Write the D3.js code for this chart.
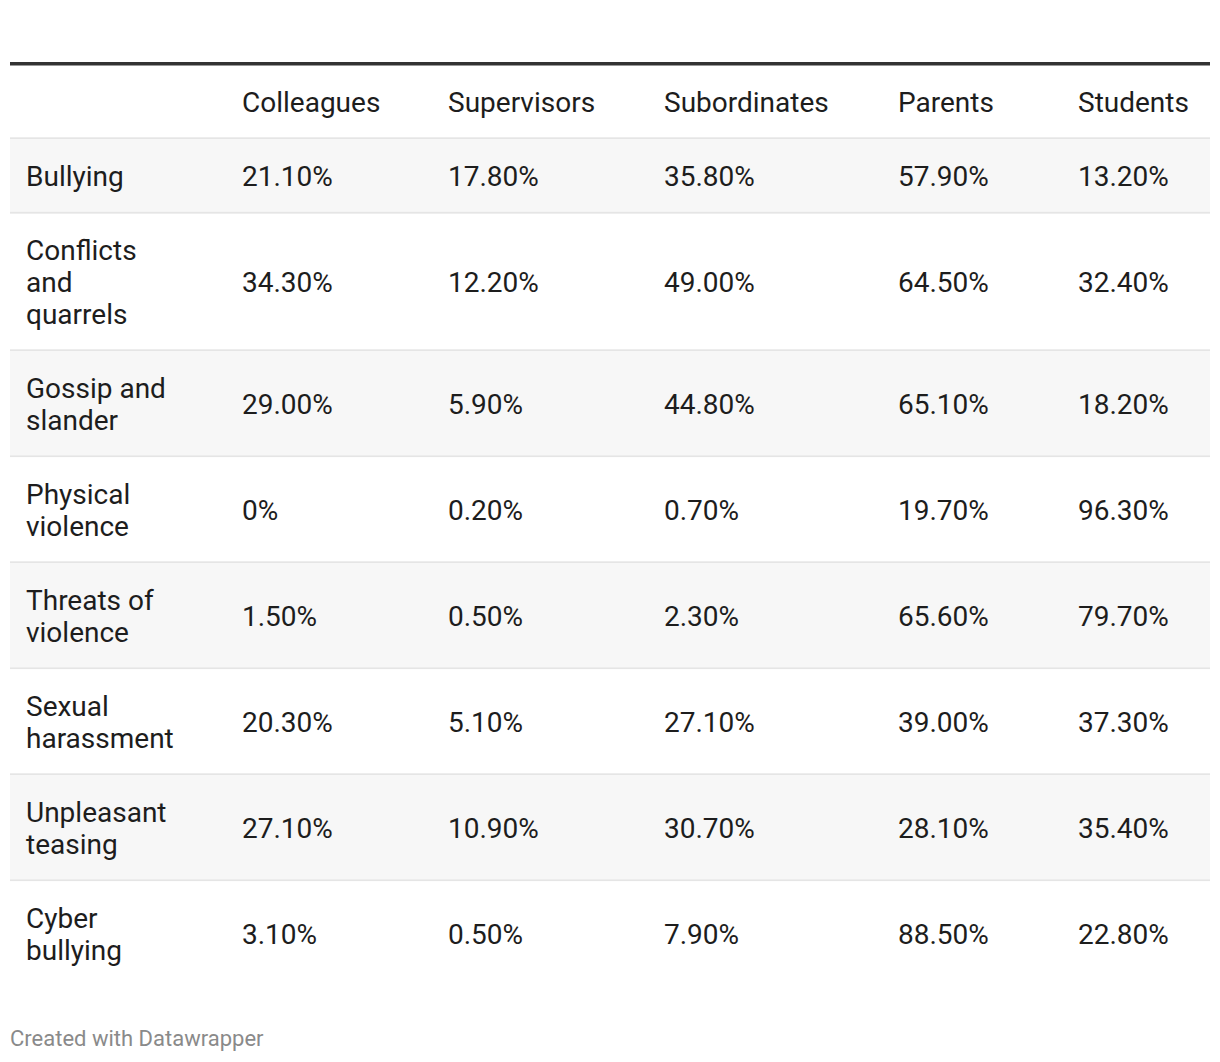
<!DOCTYPE html>
<html>
<head>
<meta charset="utf-8">
<script src="https://cdn.jsdelivr.net/npm/d3@7"></script>
<style>
  html, body { margin: 0; padding: 0; background: #fff; }
  svg { display: block; font-family: Roboto, "Noto Sans", sans-serif; }
</style>
</head>
<body>
<svg id="chart" width="1220" height="1062"></svg>
<script>
const columns = ["Colleagues", "Supervisors", "Subordinates", "Parents", "Students"];
const categories = ["Bullying", "Conflicts and quarrels", "Gossip and slander", "Physical violence",
  "Threats of violence", "Sexual harassment", "Unpleasant teasing", "Cyber bullying"];
const colleagues   = ["21.10%", "34.30%", "29.00%", "0%",    "1.50%", "20.30%", "27.10%", "3.10%"];
const supervisors  = ["17.80%", "12.20%", "5.90%",  "0.20%", "0.50%", "5.10%",  "10.90%", "0.50%"];
const subordinates = ["35.80%", "49.00%", "44.80%", "0.70%", "2.30%", "27.10%", "30.70%", "7.90%"];
const parents      = ["57.90%", "64.50%", "65.10%", "19.70%","65.60%","39.00%", "28.10%", "88.50%"];
const students     = ["13.20%", "32.40%", "18.20%", "96.30%","79.70%","37.30%", "35.40%", "22.80%"];
const footer = "Created with Datawrapper";

const series = [colleagues, supervisors, subordinates, parents, students];

const svg = d3.select("#chart");
const left = 10, right = 1210;
const fontSize = 28, rowLine = 31.5, basePad = 43, textLine = 32;
const labelX = 26, labelMax = 150;
const colX = d3.scaleOrdinal().domain(columns).range([242, 448, 664, 898, 1078]);
const textColor = "#1d1d1d";
const borderColor = "#e5e5e5";

// wrap helper via measurement
const measure = svg.append("text").attr("font-size", fontSize).attr("visibility", "hidden");
function wrap(str) {
  const words = str.split(" ");
  const lines = [];
  let cur = "";
  words.forEach(w => {
    const t = cur ? cur + " " + w : w;
    measure.text(t);
    if (measure.node().getComputedTextLength() > labelMax && cur) {
      lines.push(cur); cur = w;
    } else cur = t;
  });
  lines.push(cur);
  return lines;
}
const rows = categories.map((c, i) => ({ label: c, lines: wrap(c), values: series.map(s => s[i]), i }));
measure.remove();

// top rule
svg.append("rect").attr("x", left).attr("y", 62).attr("width", right - left).attr("height", 3.5).attr("fill", "#333");

// header
const headerBottom = 139.3;
svg.append("g").selectAll("text").data(columns).join("text")
  .attr("x", d => colX(d))
  .attr("y", 102.5)
  .attr("dy", "0.35em")
  .attr("font-size", fontSize)
  .attr("fill", textColor)
  .text(d => d);
svg.append("rect").attr("x", left).attr("y", headerBottom - 2).attr("width", right - left).attr("height", 2).attr("fill", borderColor);

// rows
let y = headerBottom;
rows.forEach(r => {
  const h = basePad + r.lines.length * rowLine;
  r.y0 = y; r.h = h; y += h;
});
const g = svg.append("g");
const rowG = g.selectAll("g.row").data(rows).join("g").attr("class", "row")
  .attr("transform", d => `translate(0,${d.y0})`);
rowG.append("rect").attr("x", left).attr("y", 0).attr("width", right - left)
  .attr("height", d => d.h - 2).attr("fill", d => d.i % 2 === 0 ? "#f7f7f7" : "#ffffff");
rowG.filter(d => d.i < rows.length - 1).append("rect").attr("x", left).attr("y", d => d.h - 2)
  .attr("width", right - left).attr("height", 2).attr("fill", borderColor);
rowG.each(function(d) {
  const gg = d3.select(this);
  const cy = (d.h - 2) / 2 + 1;
  const t = gg.append("text").attr("font-size", fontSize).attr("fill", textColor);
  const n = d.lines.length;
  d.lines.forEach((ln, k) => {
    t.append("tspan").attr("x", labelX)
      .attr("y", cy + (k - (n - 1) / 2) * textLine)
      .attr("dy", "0.35em").text(ln);
  });
  gg.selectAll("text.val").data(d.values.map((v, j) => ({ v, col: columns[j] }))).join("text")
    .attr("class", "val")
    .attr("x", e => colX(e.col))
    .attr("y", cy).attr("dy", "0.35em")
    .attr("font-size", fontSize).attr("fill", textColor)
    .text(e => e.v);
});

// footer
svg.append("text").attr("x", left).attr("y", 1038).attr("dy", "0.35em")
  .attr("font-size", 22).attr("fill", "#8a8a8a").text(footer);
</script>
</body>
</html>
